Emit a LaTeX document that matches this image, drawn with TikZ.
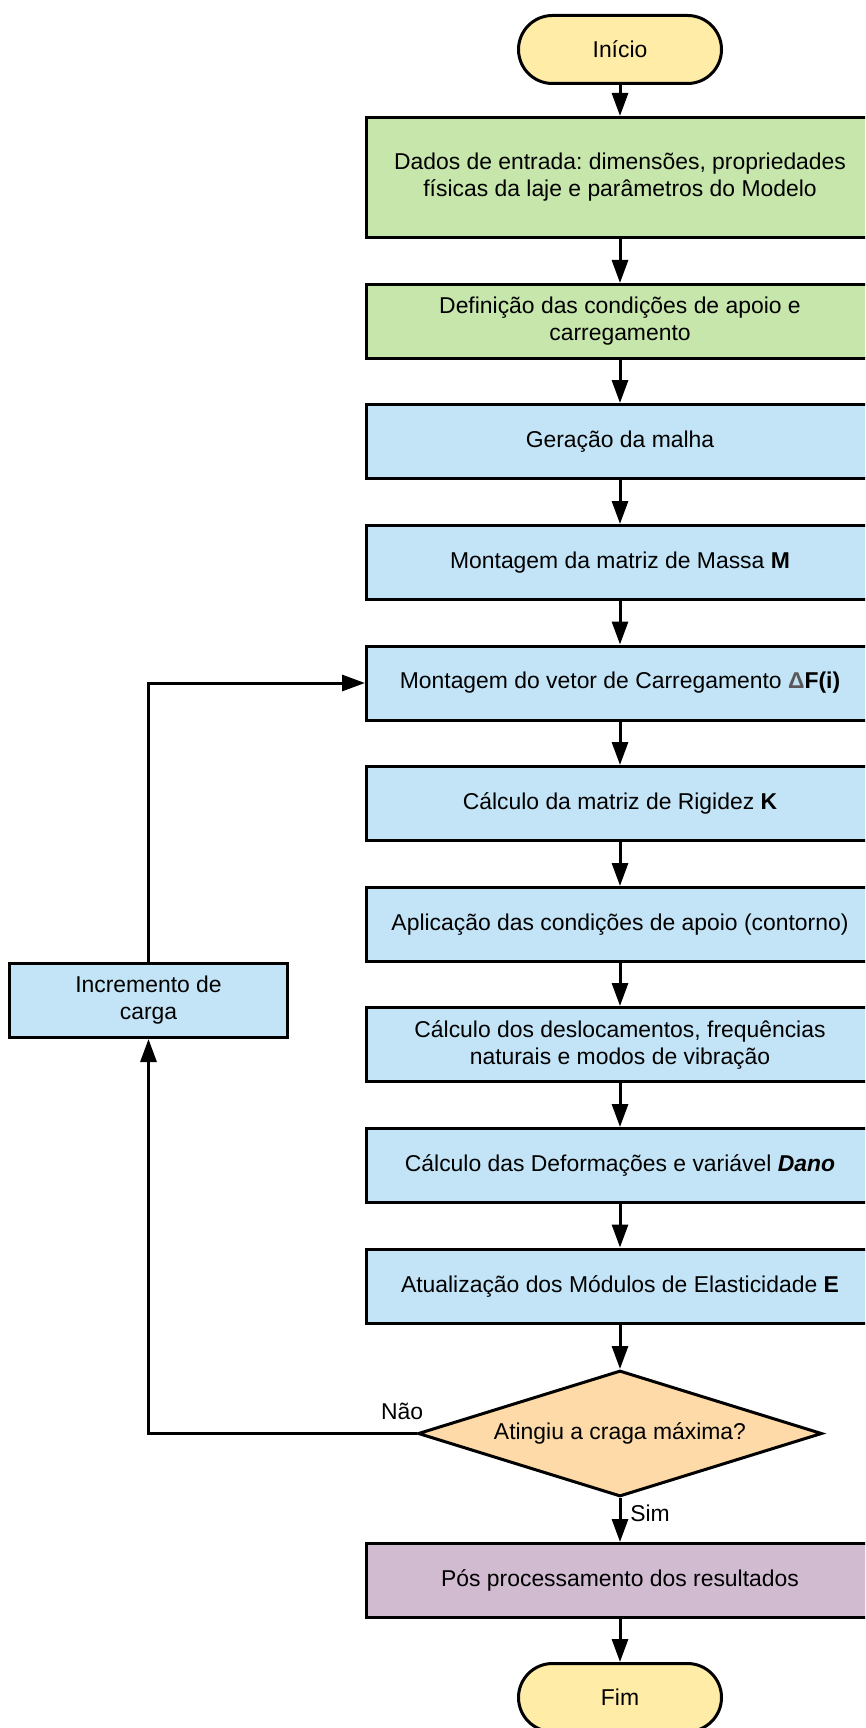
\documentclass[tikz,border=0pt]{standalone}
\usepackage{fontspec}
\setmainfont{Liberation Sans}
\usepackage{tikz}
\usetikzlibrary{
    arrows.meta,
    shapes.geometric
}
\frenchspacing

\definecolor{amarelo}{HTML}{FFECA6}
\definecolor{verde}{HTML}{C6E6AC}
\definecolor{azul}{HTML}{C2E4F6}
\definecolor{laranja}{HTML}{FDDAA8}
\definecolor{lilas}{HTML}{D1BBD1}
\definecolor{cinza}{HTML}{595959}

\tikzset{
    every node/.style={font=\fontsize{22.9}{27}\selectfont},
    terminal/.style={draw, line width=3pt, fill=amarelo, rounded corners=34pt,
        minimum width=203pt, minimum height=68pt},
    entrada/.style={draw, line width=3pt, fill=verde, align=center,
        minimum width=507pt, minimum height=74pt},
    processo/.style={draw, line width=3pt, fill=azul, align=center,
        minimum width=507pt, minimum height=74pt},
    saida/.style={draw, line width=3pt, fill=lilas, align=center,
        minimum width=507pt, minimum height=74pt},
    decisao/.style={diamond, draw, line width=3pt, fill=laranja, aspect=3.2,
        inner sep=0pt, minimum width=404pt, minimum height=126pt},
    fluxo/.style={line width=3pt, -{Triangle[length=23pt,width=16pt]}}
}

\begin{document}
\begin{tikzpicture}[x=1pt,y=-1pt]

\useasboundingbox (0,0) rectangle (865,1728);
\clip (0,0) rectangle (865,1728);

% Start
\node[terminal] (inicio) at (620,49.5) {Início};

% Input data
\node[entrada, minimum height=120pt] (dados) at (620,177.5)
    {Dados de entrada: dimensões, propriedades\\físicas da laje e parâmetros do Modelo};
\node[entrada] (apoio) at (620,321.5) {Definição das condições de apoio e\\carregamento};

% Main steps
\node[processo] (malha) at (620,441.5) {Geração da malha};
\node[processo] (massa) at (620,562.5) {Montagem da matriz de Massa \textbf{M}};
\node[processo] (vetor) at (620,683) {Montagem do vetor de Carregamento \textbf{\textcolor{cinza}{Δ}F(i)}};
\node[processo] (rigidez) at (620,803.5) {Cálculo da matriz de Rigidez \textbf{K}};
\node[processo] (contorno) at (620,924.5) {Aplicação das condições de apoio (contorno)};
\node[processo] (desloc) at (620,1044.5) {Cálculo dos deslocamentos, frequências\\naturais e modos de vibração};
\node[processo] (dano) at (620,1165.5) {Cálculo das Deformações e variável \textbf{\textit{Dano}}};
\node[processo] (modulo) at (620,1286) {Atualização dos Módulos de Elasticidade \textbf{E}};

% Decision
\node[decisao] (teste) at (620,1433.5) {Atingiu a craga máxima?};

% Load increment
\node[processo, minimum width=278pt] (incremento) at (148.5,1000.5) {Incremento de\\carga};

% End
\node[saida] (pos) at (620,1580.5) {Pós processamento dos resultados};
\node[terminal] (fim) at (620,1697.5) {Fim};

% Arrows
\draw[fluxo] (inicio) -- (dados);
\draw[fluxo] (dados) -- (apoio);
\draw[fluxo] (apoio) -- (malha);
\draw[fluxo] (malha) -- (massa);
\draw[fluxo] (massa) -- (vetor);
\draw[fluxo] (vetor) -- (rigidez);
\draw[fluxo] (rigidez) -- (contorno);
\draw[fluxo] (contorno) -- (desloc);
\draw[fluxo] (desloc) -- (dano);
\draw[fluxo] (dano) -- (modulo);
\draw[fluxo] (modulo) -- (teste);
\draw[fluxo] (teste) -- (pos);
\draw[fluxo] (pos) -- (fim);

% Loop back
\draw[fluxo] (teste.west) -| (incremento.south);
\draw[fluxo] (incremento.north) |- (vetor.west);

% Labels
\node (nao) at (402,1411.5) {Não};
\node (sim) at (650,1513) {Sim};

\end{tikzpicture}
\end{document}
